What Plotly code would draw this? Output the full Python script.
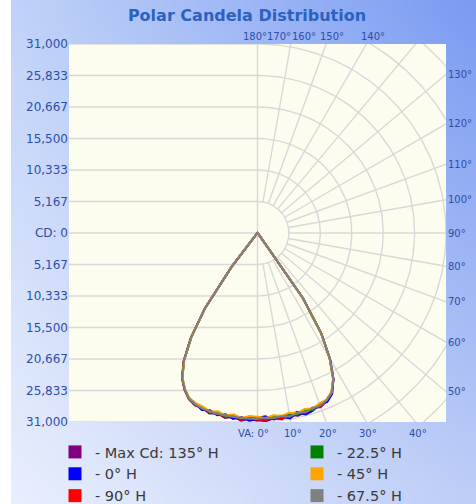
import base64, struct, zlib
import numpy as np
import plotly.graph_objects as go

# ---------------- data ----------------
angles = [0, 2.5, 5, 7.5, 10, 12.5, 15, 17.5, 20, 22.5, 25, 27.5, 30, 32.5, 35, 37.5, 40, 45, 180]

series_names = ["- Max Cd: 135° H", "- 0° H", "- 90° H", "- 22.5° H", "- 45° H", "- 67.5° H"]
series_colors = ["#800080", "#0000ff", "#ff0000", "#008000", "#ffa500", "#808080"]

maxcd_front = [30700, 30900, 30500, 30800, 30300, 30700, 30400, 30150, 30400, 29800, 28900, 27100, 23900, 19600, 13100, 2600, 300, 0, 0]
maxcd_back = [30800, 30500, 30900, 30400, 30800, 30300, 30650, 30100, 30100, 29500, 28400, 26900, 24300, 20400, 15100, 7100, 600, 0, 0]
h0_front = [30300, 30100, 30700, 30400, 30900, 30200, 30800, 30500, 29900, 30000, 29100, 27000, 23800, 19500, 13000, 2500, 300, 0, 0]
h0_back = [30500, 30800, 30300, 30750, 30200, 30600, 30100, 30450, 29800, 29400, 28300, 26800, 24200, 20300, 15000, 7000, 600, 0, 0]
h90_front = [30600, 30700, 30250, 30650, 30450, 30050, 30550, 30050, 30300, 29650, 28800, 27000, 23700, 19400, 12900, 2400, 300, 0, 0]
h90_back = [30700, 30300, 30750, 30200, 30650, 30250, 30500, 30000, 30050, 29450, 28350, 26850, 24250, 20350, 15050, 7050, 600, 0, 0]
h22_front = [30200, 30550, 30100, 30450, 30050, 30500, 30000, 30450, 29850, 29700, 28850, 26950, 23750, 19450, 12950, 2450, 300, 0, 0]
h22_back = [30300, 30150, 30600, 30100, 30550, 30100, 30450, 29900, 29900, 29350, 28250, 26750, 24150, 20250, 14950, 6950, 600, 0, 0]
h45_front = [30100, 30400, 30000, 30250, 29950, 30300, 29900, 30200, 29750, 29600, 28800, 26900, 23700, 19400, 12900, 2400, 300, 0, 0]
h45_back = [30150, 30050, 30450, 30000, 30400, 29950, 30300, 29850, 29700, 29300, 28200, 26700, 24100, 20200, 14900, 6900, 600, 0, 0]
h67_front = [30450, 30350, 30500, 30300, 30550, 30250, 30400, 30150, 30100, 29700, 28900, 27000, 23800, 19500, 13000, 2500, 300, 0, 0]
h67_back = [30450, 30500, 30400, 30450, 30350, 30400, 30250, 30200, 29900, 29400, 28300, 26800, 24200, 20300, 15000, 7000, 600, 0, 0]

fronts = [maxcd_front, h0_front, h90_front, h22_front, h45_front, h67_front]
backs = [maxcd_back, h0_back, h90_back, h22_back, h45_back, h67_back]

cd_max = 31000
cd_tick_text = ["31,000", "25,833", "20,667", "15,500", "10,333", "5,167", "CD: 0",
                "5,167", "10,333", "15,500", "20,667", "25,833", "31,000"]
top_labels = ["180°", "170°", "160°", "150°", "140°"]
right_angles = [130, 120, 110, 100, 90, 80, 70, 60, 50]
bottom_angles = [0, 10, 20, 30, 40]
grid_angles = list(range(10, 180, 10))

# ---------------- layout constants ----------------
W, H = 476, 504
ML, MR, MT, MB = 69, 30, 44, 82
PW, PH = W - ML - MR, H - MT - MB
step = cd_max / 6
px_per_cd = (PW / 2) / cd_max
top_label_px = [255, 279, 304, 332, 373]  # pixel x-centres of the top angle labels

label_blue = "#2d4ea8"
grid_col = "#d8d8d8"
font_fam = "DejaVu Sans"


def polar_xy(vals, angs, side):
    a = np.radians(np.asarray(angs, dtype=float))
    v = np.asarray(vals, dtype=float)
    return side * v * np.sin(a), -v * np.cos(a)


fig = go.Figure()

# ---- grid: left half horizontal lines ----
gx, gy = [], []
for k in range(-6, 7):
    gx += [-cd_max, 0, None]
    gy += [k * step, k * step, None]
# vertical centre line
gx += [0, 0, None]
gy += [-cd_max, cd_max, None]
# right half arcs
arc = np.linspace(0, 180, 181)
for k in range(1, 9):
    x, y = polar_xy([k * step] * len(arc), arc, 1)
    gx += list(x) + [None]
    gy += list(y) + [None]
# radial lines
for ang in grid_angles:
    x, y = polar_xy([step, cd_max * 2], [ang, ang], 1)
    gx += list(x) + [None]
    gy += list(y) + [None]
fig.add_trace(go.Scatter(x=gx, y=gy, mode="lines", line=dict(color=grid_col, width=1.4),
                         hoverinfo="skip", showlegend=False))

# ---- candela curves ----
for name, col, fr, bk in zip(series_names, series_colors, fronts, backs):
    xf, yf = polar_xy(fr, angles, 1)
    xb, yb = polar_xy(bk, angles, -1)
    x = np.concatenate([xf, xb[::-1]])
    y = np.concatenate([yf, yb[::-1]])
    fig.add_trace(go.Scatter(x=x, y=y, mode="lines", line=dict(color=col, width=2),
                             name=name, showlegend=False, hoverinfo="skip"))

# ---- legend entries: two columns = two legends ----
for i in range(6):
    fig.add_trace(go.Scatter(x=[None], y=[None], mode="markers", name=series_names[i],
                             marker=dict(symbol="square", size=13, color=series_colors[i]),
                             legend="legend" if i < 3 else "legend2", showlegend=True))

# ---- angle labels ----
lab_font = dict(size=10, color=label_blue, family=font_fam)
ann = []
for lab, px in zip(top_labels, top_label_px):
    ann.append(dict(x=(px - ML - PW / 2) / px_per_cd, y=1, xref="x", yref="paper",
                    text=lab, showarrow=False, xanchor="center", yanchor="bottom",
                    font=lab_font))
for a in right_angles:
    yv = -cd_max * np.cos(np.radians(a)) / np.sin(np.radians(a))
    ann.append(dict(x=1, y=yv, xref="paper", yref="y", text=f"{a}°", showarrow=False,
                    xanchor="left", yanchor="middle", font=lab_font))
for a in bottom_angles:
    xv = cd_max * np.tan(np.radians(a))
    if a == 0:
        ann.append(dict(x=xv, y=0, xref="x", yref="paper", text="VA: 0°", showarrow=False,
                        xanchor="right", yanchor="top", xshift=13, yshift=-4, font=lab_font))
    else:
        ann.append(dict(x=xv, y=0, xref="x", yref="paper", text=f"{a}°", showarrow=False,
                        xanchor="center", yanchor="top", xshift=2, yshift=-4, font=lab_font))


# ---- gradient background image ----
def make_png(w, h, corners):
    tl, tr, bl, br = [np.array(c, dtype=float) for c in corners]
    rows = []
    for j in range(h):
        v = j / (h - 1)
        row = bytearray([0])
        for i in range(w):
            u = i / (w - 1)
            c = (tl * (1 - u) + tr * u) * (1 - v) + (bl * (1 - u) + br * u) * v
            row += bytes(int(round(t)) for t in c)
        rows.append(bytes(row))
    raw = b"".join(rows)

    def chunk(t, d):
        c = struct.pack(">I", len(d)) + t + d
        return c + struct.pack(">I", zlib.crc32(t + d) & 0xffffffff)
    png = b"\x89PNG\r\n\x1a\n" + chunk(b"IHDR", struct.pack(">IIBBBBB", w, h, 8, 2, 0, 0, 0))
    png += chunk(b"IDAT", zlib.compress(raw)) + chunk(b"IEND", b"")
    return "data:image/png;base64," + base64.b64encode(png).decode()


bg = make_png(32, 32, [(192, 210, 248), (124, 156, 242), (232, 238, 252), (190, 206, 247)])
img_left = 11

leg_common = dict(orientation="v", xanchor="left", yanchor="top",
                  y=-(436 - MT - PH) / PH, bgcolor="rgba(0,0,0,0)",
                  font=dict(size=14.5, color="#3a3a3a", family=font_fam),
                  itemsizing="trace", tracegroupgap=0)

fig.update_layout(
    width=W, height=H,
    margin=dict(l=ML, r=MR, t=MT, b=MB, pad=0, autoexpand=False),
    paper_bgcolor="white",
    plot_bgcolor="#fdfdef",
    title=dict(text="<b>Polar Candela Distribution</b>", x=247 / W, xanchor="center",
               y=1 - 15 / H, yanchor="middle", xref="container", yref="container",
               font=dict(size=16, color="#2a62bf", family=font_fam)),
    xaxis=dict(range=[-cd_max, cd_max], showgrid=False, zeroline=False, showticklabels=False,
               ticks="", fixedrange=True, showline=False, automargin=False),
    yaxis=dict(range=[-cd_max, cd_max], showgrid=False, zeroline=False,
               tickvals=[cd_max - i * step for i in range(13)], ticktext=cd_tick_text,
               ticks="", tickfont=dict(size=12, color=label_blue, family=font_fam),
               fixedrange=True, showline=False, automargin=False),
    showlegend=True,
    legend=dict(x=(55 - ML) / PW, **leg_common),
    legend2=dict(x=(297 - ML) / PW, **leg_common),
    annotations=ann,
    shapes=[dict(type="rect", xref="paper", yref="paper", x0=0, x1=1, y0=0, y1=1,
                 fillcolor="#fdfdef", line=dict(width=0), layer="below")],
    images=[dict(source=bg, xref="paper", yref="paper",
                 x=(img_left - ML) / PW, y=1 + MT / PH,
                 sizex=(W - img_left) / PW, sizey=H / PH,
                 xanchor="left", yanchor="top", sizing="stretch", layer="below")],
)

fig.write_html("out.html", config={"displayModeBar": False},
               post_script="document.body.style.margin='0';")
